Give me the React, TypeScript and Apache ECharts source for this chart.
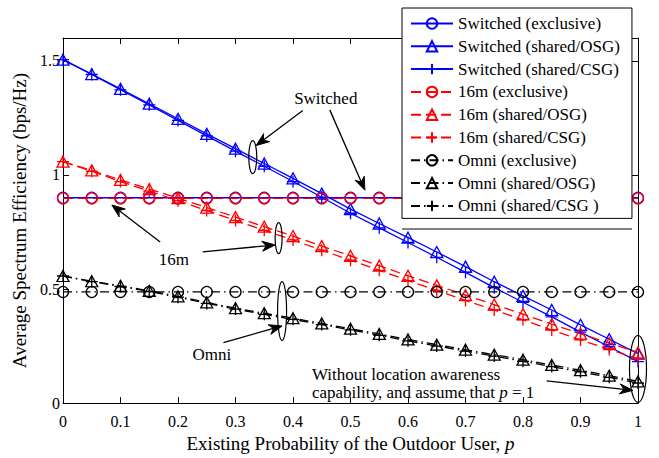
import React, { useEffect, useRef } from "react";
import * as echarts from "echarts";

// Existing probability of the outdoor user (x values of every curve)
const probabilities = [0, 0.05, 0.1, 0.15, 0.2, 0.25, 0.3, 0.35, 0.4, 0.45, 0.5, 0.55, 0.6, 0.65, 0.7, 0.75, 0.8, 0.85, 0.9, 0.95, 1];

const xTicks = [0, 0.1, 0.2, 0.3, 0.4, 0.5, 0.6, 0.7, 0.8, 0.9, 1];
const yTicks = [0, 0.5, 1, 1.5];

// Switched beam
const switchedExclusive = [0.9, 0.9, 0.9, 0.9, 0.9, 0.9, 0.9, 0.9, 0.9, 0.9, 0.9, 0.9, 0.9, 0.9, 0.9, 0.9, 0.9, 0.9, 0.9, 0.9, 0.9];
const switchedOSG = [1.505, 1.442, 1.377, 1.312, 1.246, 1.18, 1.115, 1.05, 0.985, 0.918, 0.85, 0.787, 0.725, 0.662, 0.598, 0.532, 0.47, 0.408, 0.343, 0.28, 0.217];
const switchedCSG = [1.505, 1.44, 1.373, 1.307, 1.239, 1.171, 1.104, 1.038, 0.971, 0.902, 0.832, 0.768, 0.704, 0.639, 0.573, 0.506, 0.442, 0.378, 0.311, 0.247, 0.182];

// 16m
const m16Exclusive = [0.897, 0.897, 0.897, 0.897, 0.897, 0.897, 0.897, 0.897, 0.897, 0.897, 0.897, 0.897, 0.897, 0.897, 0.897, 0.897, 0.897, 0.897, 0.897, 0.897, 0.897];
const m16OSG = [1.058, 1.02, 0.978, 0.938, 0.898, 0.857, 0.815, 0.773, 0.732, 0.688, 0.645, 0.602, 0.558, 0.516, 0.473, 0.432, 0.39, 0.346, 0.304, 0.263, 0.222];
const m16CSG = [1.058, 1.016, 0.971, 0.929, 0.887, 0.844, 0.8, 0.757, 0.715, 0.67, 0.626, 0.582, 0.537, 0.494, 0.45, 0.408, 0.365, 0.32, 0.277, 0.235, 0.194];

// Omni-directional
const omniExclusive = [0.487, 0.487, 0.487, 0.487, 0.487, 0.487, 0.487, 0.487, 0.487, 0.487, 0.487, 0.487, 0.487, 0.487, 0.487, 0.487, 0.487, 0.487, 0.487, 0.487, 0.487];
const omniOSG = [0.557, 0.534, 0.514, 0.492, 0.468, 0.441, 0.416, 0.394, 0.372, 0.349, 0.326, 0.303, 0.279, 0.256, 0.234, 0.212, 0.19, 0.167, 0.144, 0.12, 0.095];
const omniCSG = [0.557, 0.532, 0.511, 0.489, 0.464, 0.437, 0.412, 0.389, 0.367, 0.344, 0.321, 0.297, 0.273, 0.25, 0.228, 0.206, 0.183, 0.16, 0.137, 0.113, 0.088];

const FONT = "Liberation Serif, Times New Roman, serif";
const BLUE = "#0000ff";
const RED = "#ff0000";
const BLACK = "#000000";
const SOLID = "solid";
const DASHED = [10, 5];
const DASHDOT = [9, 4, 1.5, 4];
const PLUS = "path://M5,0 L5,10 M0,5 L10,5";

// Call-out annotations, placed in data units
const calloutTexts = [
  { at: [0.457, 1.335], text: "Switched", align: "center" },
  { at: [0.193, 0.63], text: "16m", align: "center" },
  { at: [0.259, 0.214], text: "Omni", align: "center" },
  { at: [0.433, 0.124], text: "Without location awareness", align: "left" },
  { at: [0.433, 0.047], text: "capability, and assume that {i|p} = 1", align: "left" },
];
const calloutArrows = [
  { from: [0.417, 1.282], to: [0.336, 1.129] },
  { from: [0.464, 1.285], to: [0.525, 0.933] },
  { from: [0.169, 0.706], to: [0.085, 0.868] },
  { from: [0.243, 0.663], to: [0.369, 0.693] },
  { from: [0.279, 0.265], to: [0.381, 0.338] },
  { from: [0.841, 0.097], to: [0.991, 0.056] },
];
const calloutEllipses = [
  { at: [0.33, 1.078], rx: 4, ry: 16.5 },
  { at: [0.375, 0.723], rx: 3.5, ry: 15.5 },
  { at: [0.381, 0.403], rx: 4.5, ry: 29.5 },
  { at: [1.0, 0.15], rx: 8.5, ry: 33.5 },
];

function curve(name: string, values: number[], color: string, dash: any, symbol: string, size: any) {
  return {
    type: "line",
    name,
    data: probabilities.map((p, i) => [p, values[i]]),
    symbol,
    symbolSize: size,
    showSymbol: true,
    clip: false,
    silent: true,
    lineStyle: { color, width: 1.3, type: dash },
    itemStyle: { color: "rgba(255,255,255,0)", borderColor: color, borderWidth: 1.3 },
    emphasis: { disabled: true },
  };
}

function arrowShapes(a: number[], b: number[]) {
  const dx = b[0] - a[0];
  const dy = b[1] - a[1];
  const len = Math.hypot(dx, dy);
  const ux = dx / len;
  const uy = dy / len;
  const nx = -uy;
  const ny = ux;
  const L = 13;
  const W = 5;
  const notch = 9;
  const backX = b[0] - L * ux;
  const backY = b[1] - L * uy;
  const nX = b[0] - notch * ux;
  const nY = b[1] - notch * uy;
  return [
    {
      type: "line",
      shape: { x1: a[0], y1: a[1], x2: nX, y2: nY },
      style: { stroke: BLACK, lineWidth: 1.3 },
      z: 50,
      silent: true,
    },
    {
      type: "polygon",
      shape: {
        points: [
          [b[0], b[1]],
          [backX + W * nx, backY + W * ny],
          [nX, nY],
          [backX - W * nx, backY - W * ny],
        ],
      },
      style: { fill: BLACK, stroke: BLACK, lineWidth: 1 },
      z: 50,
      silent: true,
    },
  ];
}

export default function App() {
  const ref = useRef<HTMLDivElement>(null);

  useEffect(() => {
    if (!ref.current) return;
    const chart = echarts.init(ref.current, undefined, { renderer: "svg" });

    const axisLine = { show: true, onZero: false, lineStyle: { color: "#000", width: 1 } };
    const axisTick = { show: true, inside: true, length: 6, lineStyle: { color: "#000", width: 1 } };

    const option: any = {
      animation: false,
      backgroundColor: "#fff",
      textStyle: { fontFamily: FONT },
      grid: { left: 63, right: 21, top: 38, bottom: 46, containLabel: false },
      legend: {
        orient: "vertical",
        left: 402,
        top: 8,
        itemWidth: 42,
        itemHeight: 13,
        itemGap: 5.8,
        padding: [7, 12, 4, 8],
        backgroundColor: "#fff",
        borderColor: "#000",
        borderWidth: 1,
        selectedMode: false,
        textStyle: { fontFamily: FONT, fontSize: 17, color: "#000", lineHeight: 17 },
        z: 20,
      },
      xAxis: [
        {
          type: "value",
          min: 0,
          max: 1,
          interval: 0.1,
          position: "bottom",
          axisLine,
          axisTick,
          splitLine: { show: false },
          axisLabel: {
            fontFamily: FONT,
            fontSize: 16,
            color: "#000",
            margin: 10,
            formatter: (v: number) => {
              const t = xTicks.find((x) => Math.abs(x - v) < 1e-6);
              return t === undefined ? "" : String(t);
            },
          },
          name: "Existing Probability of the Outdoor User, {i|p}",
          nameLocation: "middle",
          nameGap: 29,
          nameTextStyle: {
            fontFamily: FONT,
            fontSize: 19,
            color: "#000",
            rich: { i: { fontFamily: FONT, fontSize: 19, fontStyle: "italic", color: "#000" } },
          },
        },
        {
          type: "value",
          min: 0,
          max: 1,
          interval: 0.1,
          position: "top",
          axisLine,
          axisTick,
          splitLine: { show: false },
          axisLabel: { show: false },
        },
      ],
      yAxis: [
        {
          type: "value",
          min: 0,
          max: 1.6,
          interval: 0.5,
          position: "left",
          axisLine,
          axisTick,
          splitLine: { show: false },
          axisLabel: {
            fontFamily: FONT,
            fontSize: 16,
            color: "#000",
            margin: 3,
            padding: [3, 0, 0, 0],
            formatter: (v: number) => {
              const t = yTicks.find((y) => Math.abs(y - v) < 1e-6);
              return t === undefined ? "" : String(t);
            },
          },
          name: "Average Spectrum Efficiency (bps/Hz)",
          nameLocation: "middle",
          nameGap: 30,
          nameTextStyle: { fontFamily: FONT, fontSize: 19, color: "#000" },
        },
        {
          type: "value",
          min: 0,
          max: 1.6,
          interval: 0.5,
          position: "right",
          axisLine,
          axisTick,
          splitLine: { show: false },
          axisLabel: { show: false },
        },
      ],
      series: [
        curve("Switched (exclusive)", switchedExclusive, BLUE, SOLID, "circle", 11),
        curve("Switched (shared/OSG)", switchedOSG, BLUE, SOLID, "triangle", [12, 11]),
        curve("Switched (shared/CSG)", switchedCSG, BLUE, SOLID, PLUS, 12),
        curve("16m (exclusive)", m16Exclusive, RED, DASHED, "circle", 11),
        curve("16m (shared/OSG)", m16OSG, RED, DASHED, "triangle", [12, 11]),
        curve("16m (shared/CSG)", m16CSG, RED, DASHED, PLUS, 12),
        curve("Omni (exclusive)", omniExclusive, BLACK, DASHDOT, "circle", 11),
        curve("Omni (shared/OSG)", omniOSG, BLACK, DASHDOT, "triangle", [12, 11]),
        curve("Omni (shared/CSG )", omniCSG, BLACK, DASHDOT, PLUS, 12),
      ],
    };

    chart.setOption(option);

    const px = (pt: number[]) => chart.convertToPixel({ seriesIndex: 0 }, pt) as number[];
    const graphics: any[] = [];

    calloutEllipses.forEach((e) => {
      const c = px(e.at);
      graphics.push({
        type: "ellipse",
        shape: { cx: c[0], cy: c[1], rx: e.rx, ry: e.ry },
        style: { fill: "none", stroke: BLACK, lineWidth: 1.2 },
        z: 50,
        silent: true,
      });
    });

    calloutArrows.forEach((a) => {
      graphics.push(...arrowShapes(px(a.from), px(a.to)));
    });

    calloutTexts.forEach((t) => {
      const c = px(t.at);
      graphics.push({
        type: "text",
        x: c[0],
        y: c[1],
        z: 50,
        silent: true,
        style: {
          text: t.text,
          fill: BLACK,
          fontFamily: FONT,
          fontSize: 17,
          align: t.align,
          verticalAlign: "middle",
          rich: { i: { fontFamily: FONT, fontSize: 17, fontStyle: "italic", fill: BLACK } },
        },
      });
    });

    // second frame edge under the legend box
    graphics.push({
      type: "line",
      shape: { x1: 402, y1: 229, x2: 632, y2: 229 },
      style: { stroke: BLACK, lineWidth: 1 },
      z: 50,
      silent: true,
    });

    chart.setOption({ graphic: graphics });

    return () => chart.dispose();
  }, []);

  return (
    <div
      ref={ref}
      style={{ position: "fixed", left: 0, top: 0, width: 659, height: 458, background: "#fff" }}
    />
  );
}
